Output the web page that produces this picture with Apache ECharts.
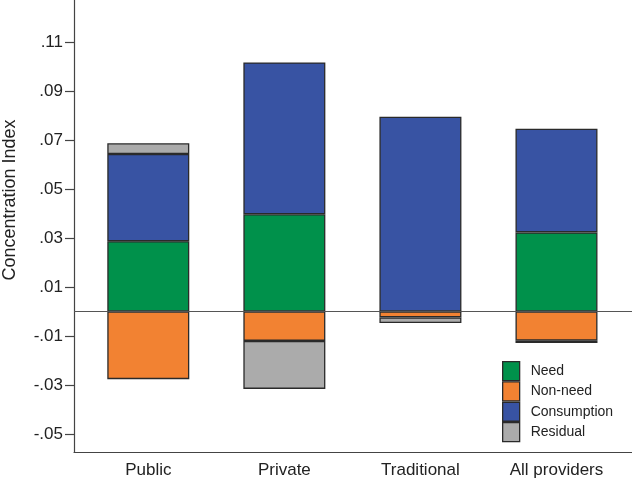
<!DOCTYPE html>
<html>
<head>
<meta charset="utf-8">
<script src="https://cdn.jsdelivr.net/npm/echarts@6/dist/echarts.min.js"></script>
<style>
  html, body { margin: 0; padding: 0; background: #fff; }
  #chart { width: 632px; height: 480px; }
</style>
</head>
<body>
<div id="chart"></div>
<script>
// categories and decomposition of the concentration index
var categories = ['Public', 'Private', 'Traditional', 'All providers'];
var need = [0.0287, 0.0397, 0, 0.0323];
var nonNeed = [-0.0276, -0.0120, -0.0024, -0.0119];
var consumption = [0.0356, 0.0620, 0.0795, 0.0423];
var residual = [0.0044, -0.0196, -0.0023, -0.0010];
var yTicks = [-0.05, -0.03, -0.01, 0.01, 0.03, 0.05, 0.07, 0.09, 0.11];

var FONT = 'Liberation Sans, Arial, sans-serif';
var EDGE = '#2a2a2a';

// value first so the stack runs on y
function pairs(arr) {
  return arr.map(function (v, i) { return [v, i]; });
}

function barSeries(name, arr, color) {
  return {
    name: name,
    type: 'bar',
    stack: 'ci',
    barWidth: 82,
    encode: { x: 1, y: 0 },
    data: pairs(arr),
    itemStyle: { color: color, borderColor: EDGE, borderWidth: 1.3 }
  };
}

var chart = echarts.init(document.getElementById('chart'));

var series = [
  barSeries('Need', need, '#00914b'),
  barSeries('Non-need', nonNeed, '#f28232'),
  barSeries('Consumption', consumption, '#3853a3'),
  barSeries('Residual', residual, '#ababab')
];
// zero reference line
series[0].markLine = {
  silent: true,
  symbol: 'none',
  label: { show: false },
  lineStyle: { color: '#555', width: 1.2, type: 'solid' },
  data: [{ yAxis: 0 }]
};

var option = {
  animation: false,
  grid: { left: 74, right: 0, top: -52, bottom: 28, containLabel: false, outerBoundsMode: 'none' },
  legend: {
    orient: 'vertical',
    left: 502,
    top: 361,
    padding: 0,
    itemGap: 0,
    itemWidth: 17,
    itemHeight: 19,
    icon: 'rect',
    itemStyle: { borderColor: EDGE, borderWidth: 1.3 },
    textStyle: { fontFamily: FONT, fontSize: 14, color: '#222', padding: [0, 0, 0, 6] },
    data: ['Need', 'Non-need', 'Consumption', 'Residual']
  },
  xAxis: {
    type: 'value',
    min: -0.546,
    max: 3.555,
    splitLine: { show: false },
    axisTick: { show: false },
    axisLine: { show: true, onZero: false, lineStyle: { color: '#444', width: 1.2 } },
    axisLabel: {
      customValues: [0, 1, 2, 3],
      formatter: function (v) { return categories[Math.round(v)]; },
      fontFamily: FONT,
      fontSize: 17,
      color: '#222',
      margin: 10
    }
  },
  yAxis: {
    type: 'value',
    min: -0.05735,
    max: 0.1484,
    name: 'Concentration Index',
    nameLocation: 'middle',
    nameGap: 55,
    nameTextStyle: { fontFamily: FONT, fontSize: 18, color: '#222' },
    splitLine: { show: false },
    axisLine: { show: true, onZero: false, lineStyle: { color: '#444', width: 1.2 } },
    axisTick: { show: true, customValues: yTicks, length: 9, lineStyle: { color: '#444', width: 1.2 } },
    axisLabel: {
      customValues: yTicks,
      formatter: function (v) { return v.toFixed(2).replace('0.', '.'); },
      fontFamily: FONT,
      fontSize: 17,
      color: '#222',
      margin: 11
    }
  },
  series: series
};

chart.setOption(option);
</script>
</body>
</html>
